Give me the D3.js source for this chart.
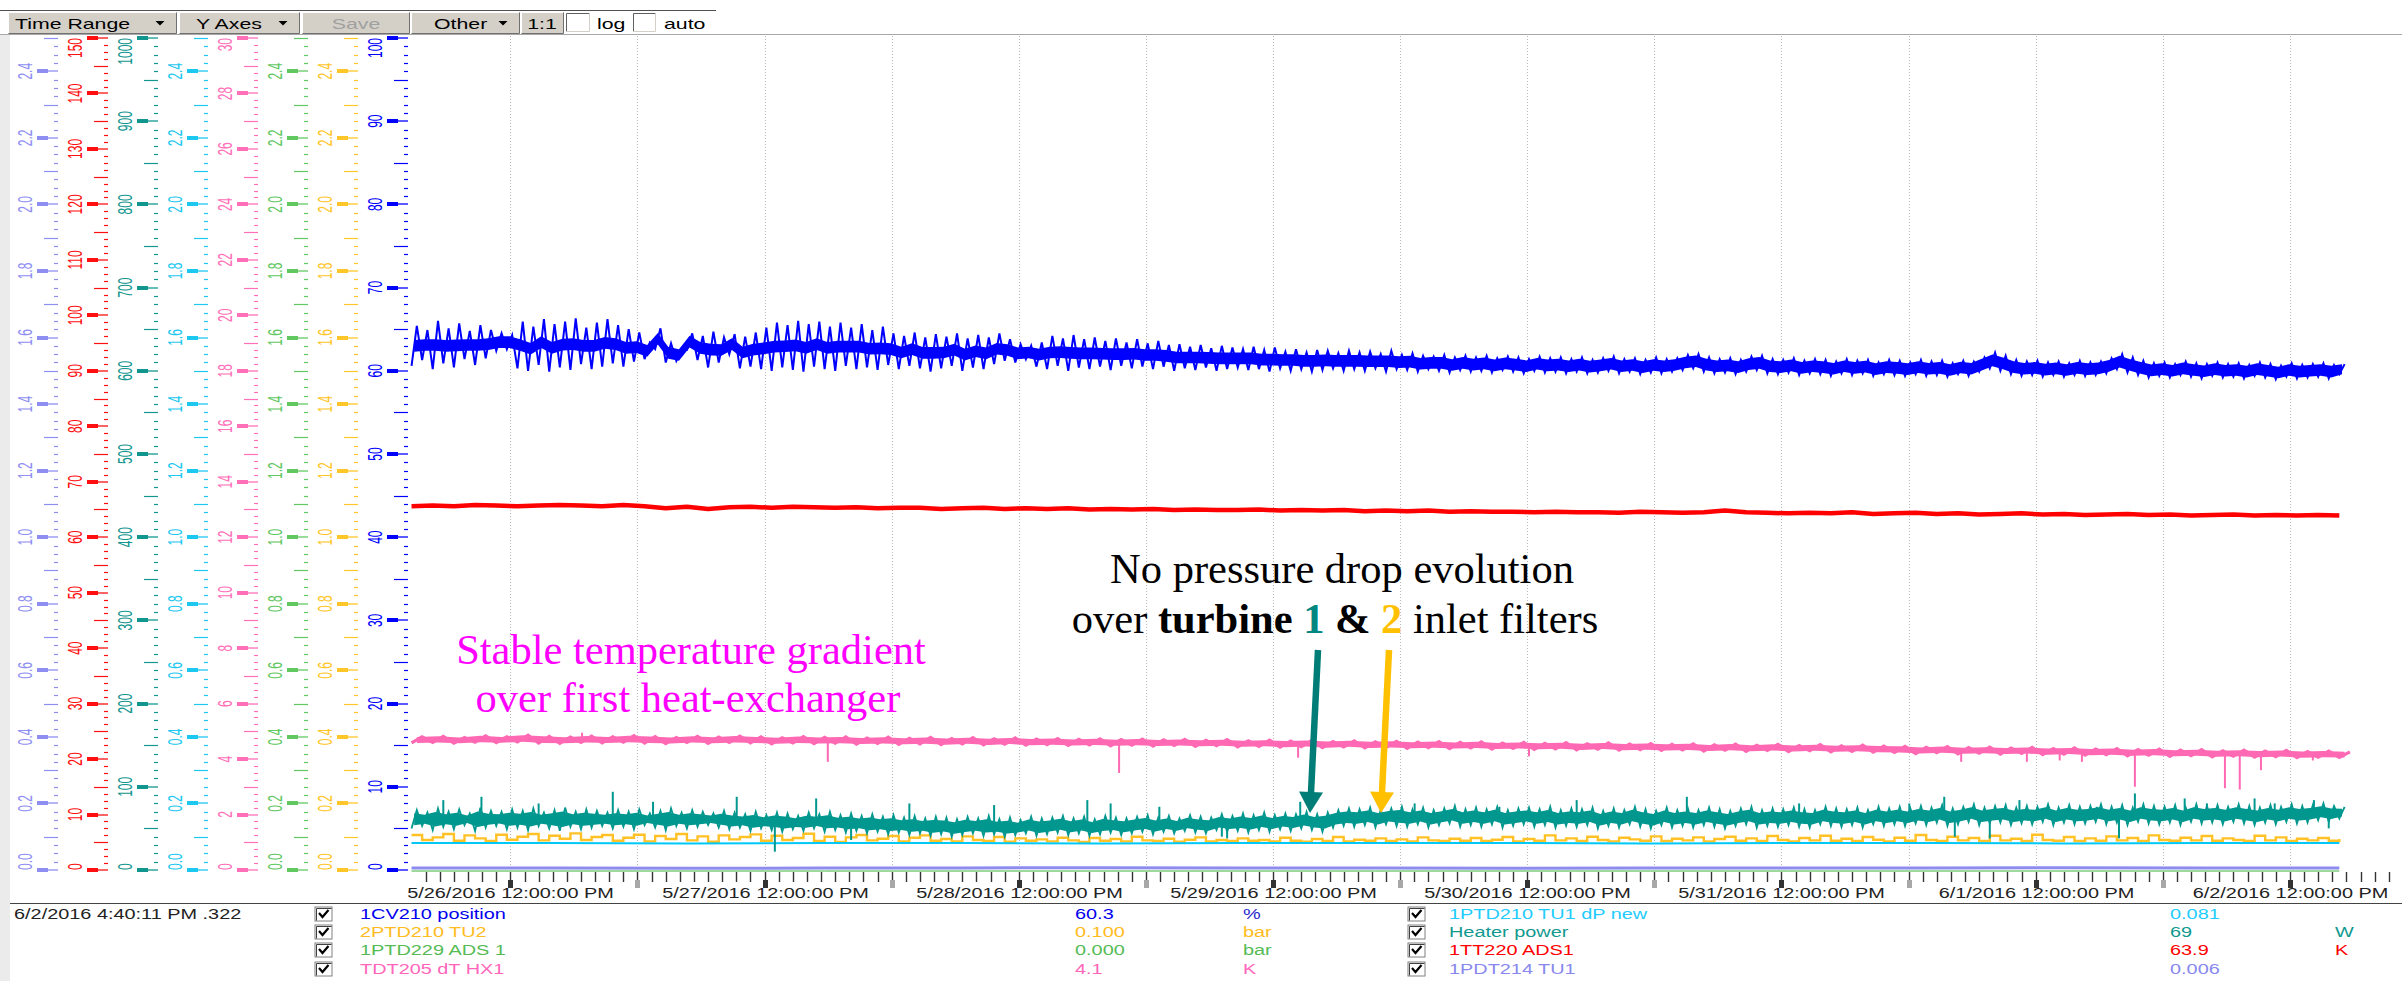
<!DOCTYPE html>
<html>
<head>
<meta charset="utf-8">
<title>Trend</title>
<script src="https://cdn.jsdelivr.net/npm/d3@7/dist/d3.min.js"></script>
<style>
  html, body { margin:0; padding:0; background:#ffffff; overflow:hidden; }
  svg { display:block; }
  .ui { font-family: "Liberation Sans", Arial, sans-serif; }
  .serif { font-family: "Liberation Serif", "Times New Roman", serif; }
</style>
</head>
<body>
<svg id="chart" width="2402" height="981"></svg>
<script>
// ================= DATA =================
const timeStart = new Date(2016, 4, 26, 2, 20);
const timeEnd   = new Date(2016, 5, 2, 22, 35);
const sampleStart = new Date(2016, 4, 26, 2, 40);   // first sample, 1 h steps
const tickAnchor = new Date(2016, 4, 26, 12, 0);
const tickMinutes = 80;
const cursorLabel = "6/2/2016 4:40:11 PM .322";

const toolbarLabels = ["Time Range", "Y Axes", "Save", "Other", "1:1"];
const toolbarChecks = ["log", "auto"];

// 8 stacked y axes (left to right)
const axisMax      = [2.5, 150, 1000, 2.5, 30, 2.5, 2.5, 100];
const axisMajor    = [0.2, 10, 100, 0.2, 2, 0.2, 0.2, 10];
const axisMinorPer = [8, 8, 10, 8, 8, 8, 8, 10];
const axisDecimals = [1, 0, 0, 1, 0, 1, 1, 0];

// 1CV210 position (%), hourly envelope hi / lo
const blueHi = [
65.4,64.9,66.0,65.1,65.7,64.8,65.5,64.9,64.5,64.3,
65.9,65.3,66.2,65.6,65.9,66.3,65.2,65.8,66.2,65.5,
65.0,64.6,63.4,65.1,63.3,62.6,64.5,64.2,64.7,64.0,
64.4,64.1,64.6,65.2,65.8,65.5,66.0,65.6,65.9,65.3,
65.8,65.2,65.6,64.9,65.3,64.5,64.2,64.6,64.0,64.4,
64.1,64.5,63.9,64.3,64.0,64.5,63.8,63.2,63.0,63.4,
64.2,63.9,64.3,63.8,64.0,63.6,63.9,63.4,63.8,63.3,
63.6,63.1,63.2,62.9,63.1,62.7,63.0,62.8,62.6,62.9,
62.5,62.8,62.3,62.6,62.2,62.5,62.4,62.1,62.4,62.2,
62.3,62.0,62.4,61.9,62.1,61.8,61.7,61.9,61.6,61.8,
61.6,61.8,61.5,61.7,61.6,61.4,61.7,61.5,61.6,61.4,
61.6,61.3,61.5,61.7,61.4,61.5,61.3,61.6,61.4,61.5,
61.9,62.0,61.6,61.4,61.5,61.3,61.7,61.8,61.4,61.3,
61.5,61.2,61.4,61.3,61.1,61.4,61.2,61.3,61.0,61.3,
61.2,61.0,61.3,61.1,61.2,60.9,61.2,61.1,61.6,62.2,
61.8,61.3,61.1,61.2,61.0,61.1,60.9,61.2,61.0,61.1,
61.5,62.0,61.6,61.2,60.9,61.0,60.8,61.1,60.9,60.8,
61.0,60.8,60.9,60.7,61.0,60.8,60.6,60.9,60.7,60.8,
60.9,60.7,60.8];
const blueLo = [
60.6,61.3,60.2,60.9,60.4,61.4,60.7,61.5,62.4,62.6,
60.3,60.0,60.7,59.9,60.4,60.1,60.8,60.2,60.5,60.9,
60.5,61.1,61.4,62.6,61.0,61.2,62.5,61.3,60.4,61.0,
62.0,60.3,60.5,60.2,60.0,60.4,60.1,59.9,60.5,60.2,
60.0,60.6,60.2,60.4,60.1,60.7,60.2,60.6,60.3,59.9,
60.3,60.6,60.0,60.4,60.2,60.8,61.2,61.0,61.4,60.5,
60.2,60.6,60.0,60.4,60.2,60.5,60.1,60.6,60.3,60.5,
60.2,60.5,60.0,60.3,60.1,60.4,60.0,60.2,60.4,60.1,
60.2,59.9,60.3,60.0,60.2,59.9,60.1,60.3,60.0,60.2,
60.0,60.3,59.9,60.2,60.1,59.9,60.2,60.0,59.8,60.1,
59.9,60.0,59.8,60.1,59.9,59.7,60.0,59.8,59.9,59.7,
59.9,59.7,59.8,60.0,59.7,59.9,59.6,59.8,59.7,59.9,
60.1,60.3,59.9,59.7,59.8,59.6,59.9,60.1,59.7,59.6,
59.8,59.5,59.7,59.6,59.4,59.7,59.5,59.7,59.4,59.6,
59.5,59.4,59.6,59.4,59.5,59.3,59.6,59.4,59.9,60.3,
60.0,59.6,59.4,59.5,59.3,59.5,59.3,59.5,59.4,59.5,
59.7,60.2,59.8,59.5,59.2,59.4,59.2,59.5,59.3,59.1,
59.4,59.2,59.3,59.1,59.4,59.2,59.0,59.3,59.1,59.2,
59.3,59.1,59.6];

// 1TT220 ADS1 (K), every 2 h
const redVals = [
65.6,65.7,65.6,65.8,65.7,65.6,65.7,65.8,65.7,65.6,
65.8,65.6,65.2,65.5,65.1,65.4,65.5,65.3,65.5,65.4,
65.3,65.4,65.2,65.3,65.3,65.1,65.2,65.3,65.1,65.2,
65.1,65.2,65.0,65.1,65.0,65.1,64.9,65.0,64.9,64.9,
65.0,64.8,64.9,64.8,64.9,64.7,64.8,64.7,64.8,64.6,
64.7,64.6,64.6,64.5,64.6,64.5,64.5,64.4,64.6,64.5,
64.4,64.5,64.8,64.5,64.4,64.3,64.4,64.3,64.5,64.2,
64.3,64.4,64.2,64.3,64.1,64.2,64.3,64.1,64.2,64.0,
64.1,64.2,64.0,64.1,63.9,64.0,64.1,63.9,64.0,63.9,
64.0,63.9];

// TDT205 dT HX1 (K), every 2 h envelope
const pinkHi = [
4.80,4.82,4.78,4.84,4.80,4.86,4.82,4.79,4.83,4.80,
4.84,4.81,4.78,4.82,4.79,4.83,4.80,4.77,4.81,4.78,
4.80,4.76,4.79,4.75,4.78,4.74,4.77,4.73,4.76,4.72,
4.74,4.71,4.73,4.70,4.72,4.69,4.71,4.68,4.70,4.66,
4.68,4.65,4.67,4.63,4.66,4.62,4.64,4.61,4.63,4.60,
4.62,4.58,4.60,4.57,4.59,4.55,4.58,4.54,4.56,4.53,
4.55,4.51,4.54,4.50,4.53,4.49,4.52,4.48,4.50,4.47,
4.46,4.42,4.45,4.41,4.43,4.40,4.42,4.38,4.40,4.36,
4.38,4.34,4.36,4.32,4.34,4.30,4.32,4.29,4.31,4.27,
4.29,4.26];
const pinkLo = [
4.58,4.60,4.57,4.61,4.59,4.62,4.58,4.57,4.60,4.58,
4.61,4.58,4.56,4.60,4.57,4.60,4.58,4.55,4.58,4.56,
4.57,4.54,4.56,4.53,4.55,4.52,4.55,4.51,4.54,4.50,
4.52,4.49,4.51,4.48,4.50,4.47,4.49,4.46,4.48,4.44,
4.46,4.43,4.45,4.41,4.44,4.40,4.42,4.39,4.41,4.38,
4.40,4.36,4.38,4.35,4.37,4.33,4.36,4.32,4.34,4.31,
4.33,4.29,4.32,4.28,4.31,4.27,4.30,4.26,4.28,4.25,
4.24,4.20,4.23,4.19,4.21,4.18,4.20,4.16,4.18,4.14,
4.16,4.12,4.14,4.10,4.12,4.08,4.10,4.07,4.09,4.05,
4.07,4.06];
// [hours after first sample, spike tip]
const pinkSpikes = [[16.1,4.95],[39.3,3.9],[66.8,3.5],[83.7,4.05],[105.5,4.1],[146.3,3.9],[152.5,3.9],
  [155.6,3.95],[157.7,3.9],[162.7,3.0],[171.2,2.95],[172.6,2.9],[174.6,3.6],[179.5,3.95]];

// Heater power (W), hourly envelope
const tealHi = [
72,69,74,70,73,68,75,71,70,73, 71,74,69,72,75,70,73,71,69,72,
70,73,68,71,74,69,72,70,68,71, 69,67,70,66,69,68,65,69,67,70,
66,68,65,67,64,66,63,65,62,64, 63,61,64,62,65,61,63,60,64,62,
63,65,62,64,61,65,63,62,64,66, 63,65,62,66,64,63,67,65,68,66,
69,66,68,67,70,67,69,72,74,73, 75,72,74,76,73,75,72,74,77,73,
75,73,76,72,74,75,73,76,72,74, 73,75,71,74,72,76,73,71,75,72,
74,72,75,73,71,74,76,72,74,73, 75,73,72,76,74,73,75,72,76,74,
76,74,77,75,78,74,76,79,75,77, 78,75,77,76,79,75,78,76,77,79,
76,78,75,79,77,76,78,75,79,77, 78,76,79,77,75,78,76,79,77,78,
80,77,76];
const tealLo = [
50,53,48,52,49,54,47,51,53,49, 51,48,53,50,47,52,49,51,53,50,
52,49,54,51,48,53,50,52,54,51, 49,51,47,50,48,46,49,47,50,46,
48,45,47,44,46,43,45,42,44,41, 43,40,42,44,41,43,40,42,44,41,
43,45,42,44,41,43,45,42,44,46, 43,46,44,47,45,44,48,46,47,45,
48,46,49,47,50,48,46,51,53,52, 54,51,55,53,52,55,51,54,56,52,
54,52,55,51,53,55,52,54,51,53, 52,54,50,53,51,55,52,50,54,51,
53,51,54,52,50,53,55,51,53,52, 54,52,51,55,53,52,54,51,55,53,
55,53,56,54,57,53,55,58,54,56, 57,54,56,55,58,54,57,55,56,58,
55,57,54,58,56,55,57,54,58,56, 57,55,58,56,54,57,55,58,56,57,
60,58,62];
const tealSpikes = [[3,84],[6.6,88],[12,80],[19,94],[22.8,82],[30.7,88],[34.3,22],[38.2,86],[41.5,36],
  [47,80],[55,78],[63.8,84],[66,80],[70.6,76],[76.5,40],[77,38],[83.9,82],[94.7,80],[102.7,76],[110,84],
  [120.4,88],[131,80],[141.4,80],[144.7,88],[145.7,40],[149,38],[151.8,84],[154.6,76],[159.1,76],
  [161.2,38],[162.7,92],[167.4,86],[169.5,80],[174,86],[175.9,80],[179.6,84],[181,50]];

// 2PTD210 TU2 (bar), hourly
const yellowVals = [
0.105,0.090,0.098,0.108,0.088,0.104,0.095,0.087,0.106,0.091,
0.100,0.108,0.089,0.103,0.094,0.110,0.090,0.099,0.105,0.088,
0.097,0.106,0.086,0.102,0.093,0.108,0.089,0.101,0.085,0.104,
0.092,0.099,0.107,0.088,0.103,0.090,0.096,0.109,0.087,0.100,
0.084,0.098,0.105,0.089,0.094,0.102,0.086,0.097,0.104,0.088,
0.093,0.086,0.101,0.090,0.087,0.099,0.085,0.095,0.088,0.092,
0.086,0.097,0.089,0.084,0.096,0.088,0.093,0.086,0.100,0.089,
0.087,0.094,0.085,0.091,0.098,0.086,0.090,0.087,0.095,0.088,
0.090,0.086,0.097,0.088,0.085,0.093,0.087,0.099,0.086,0.091,
0.088,0.095,0.087,0.092,0.086,0.098,0.089,0.087,0.094,0.088,
0.096,0.087,0.091,0.099,0.086,0.093,0.088,0.104,0.089,0.095,
0.087,0.100,0.090,0.086,0.097,0.092,0.088,0.101,0.087,0.094,
0.089,0.098,0.086,0.093,0.100,0.088,0.095,0.087,0.102,0.090,
0.086,0.096,0.089,0.103,0.088,0.094,0.087,0.099,0.091,0.086,
0.097,0.088,0.105,0.090,0.087,0.100,0.089,0.096,0.087,0.103,
0.089,0.094,0.087,0.106,0.090,0.088,0.099,0.087,0.095,0.088,
0.101,0.089,0.096,0.087,0.104,0.090,0.088,0.097,0.089,0.102,
0.088,0.095,0.090,0.087,0.103,0.089,0.098,0.087,0.094,0.089,
0.096,0.088,0.093];

// every 13 h
const cyanVals   = [0.081,0.081,0.080,0.081,0.081,0.080,0.081,0.081,0.081,0.080,0.081,0.081,0.080,0.081,0.081];
const greenVals  = [0,0,0,0,0,0,0,0,0,0,0,0,0,0,0];
const lavVals    = [0.006,0.006,0.005,0.006,0.006,0.007,0.006,0.006,0.005,0.006,0.006,0.006,0.007,0.006,0.006];

const legendNames  = ["1CV210 position","2PTD210 TU2","1PTD229 ADS 1","TDT205 dT HX1",
                      "1PTD210 TU1 dP new","Heater power","1TT220 ADS1","1PDT214 TU1"];
const legendValues = ["60.3","0.100","0.000","4.1","0.081","69","63.9","0.006"];
const legendUnits  = ["%","bar","bar","K","","W","K",""];

// ================= STYLE / LAYOUT =================
const W = 2402, H = 981;
const SX = 1.42;               // horizontal stretch of the screenshot's bitmap fonts
const SXA = 1.7;               // stretch of rotated axis labels
const Y0 = 870, Y1 = 38;       // value 0 / axis max
const axisColors = ["#8f8ff2","#ff1010","#12968f","#1ec8f0","#ff70b8","#62c862","#ffc62a","#0000ff"];
const C = { blue:"#0000ff", red:"#ff0000", pink:"#ff69b4", teal:"#00978f", yellow:"#ffc125",
            cyan:"#00c8f8", green:"#3cb43c", lav:"#8c8cf0" };
const legendColors = ["#0000ee","#ffbb22","#55bb55","#ff66bb","#22ccff","#119990","#ff0000","#8888ee"];
const unitColors   = ["#2a2acc","#ffbb22","#55bb55","#ff66bb","#22ccff","#119990","#ff0000","#8888ee"];

const svg = d3.select("#chart");
svg.append("rect").attr("width", W).attr("height", H).attr("fill", "#fff");

const x = d3.scaleTime().domain([timeStart, timeEnd]).range([408, 2402]);
const tAt = h => new Date(sampleStart.getTime() + h * 3600e3);
const yScales = axisMax.map(m => d3.scaleLinear().domain([0, m]).range([Y0, Y1]));
const yLav = yScales[0], yRed = yScales[1], yTeal = yScales[2], yCyan = yScales[3],
      yPink = yScales[4], yGreen = yScales[5], yYel = yScales[6], yBlue = yScales[7];

function uiText(g, str, px, py, o = {}) {
  return g.append("text")
    .attr("class", "ui")
    .attr("transform", `translate(${px},${py}) scale(${o.sx || SX},1)`)
    .attr("text-anchor", o.anchor || "start")
    .attr("font-size", o.size || 14)
    .attr("fill", o.fill || "#000")
    .text(str);
}

// ---------- left gray strip ----------
svg.append("rect").attr("x", 0).attr("y", 34).attr("width", 10).attr("height", H - 34).attr("fill", "#ebebeb");

// ---------- vertical grid ----------
const gGrid = svg.append("g");
d3.timeHour.every(12).range(timeStart, timeEnd).forEach(t => {
  const px = Math.round(x(t)) + 0.5;
  if (px < 410) return;
  gGrid.append("line").attr("x1", px).attr("x2", px).attr("y1", 36).attr("y2", Y0 - 1)
    .attr("stroke", "#b8b8b8").attr("stroke-width", 1).attr("stroke-dasharray", "1,2");
});

// ---------- y axes ----------
const gAx = svg.append("g");
axisMax.forEach((mx, i) => {
  const bx = 50 * i;
  const col = axisColors[i];
  const ys = yScales[i];
  const per = axisMinorPer[i];
  const step = axisMajor[i] / per;
  const n = Math.round(mx / step);
  for (let k = 0; k <= n; k++) {
    const v = k * step;
    const py = Math.round(ys(v)) + 0.5;
    if (k % per === 0) {
      gAx.append("rect").attr("x", bx + 37).attr("y", py - 2.5).attr("width", 11).attr("height", 4).attr("fill", col);
      gAx.append("line").attr("x1", bx + 37).attr("x2", bx + 58).attr("y1", py - 0.5).attr("y2", py - 0.5)
        .attr("stroke", col).attr("stroke-width", 1.3);
      const lab = gAx.append("text").attr("class", "ui").attr("font-size", 12).attr("fill", col)
        .attr("text-anchor", "middle").attr("dominant-baseline", "central")
        .text(d3.format("." + axisDecimals[i] + "f")(v));
      const L = lab.node().getComputedTextLength();
      const cy = Math.max(Y1 + L / 2, Math.min(Y0 - L / 2, ys(v)));
      lab.attr("transform", `translate(${bx + 25},${cy}) scale(${SXA},1) rotate(-90)`);
    } else if (k % (per / 2) === 0) {
      gAx.append("line").attr("x1", bx + 44).attr("x2", bx + 58).attr("y1", py).attr("y2", py)
        .attr("stroke", col).attr("stroke-width", 1.2);
    } else {
      gAx.append("line").attr("x1", bx + 54).attr("x2", bx + 58).attr("y1", py).attr("y2", py)
        .attr("stroke", col).attr("stroke-width", 1.2);
    }
  }
});

// ---------- series ----------
const gS = svg.append("g");
const lineXY = d3.line().x(d => x(d[0])).y(d => d[1]);
const areaXY = d3.area().x(d => x(d[0])).y0(d => d[1]).y1(d => d[2]);

function zigzag(hi, lo, stepH, ys) {
  const pts = [];
  hi.forEach((v, i) => {
    pts.push([tAt(i * stepH), ys(lo[i])]);
    pts.push([tAt(i * stepH + stepH / 2), ys(v)]);
  });
  return pts;
}
// solid core of the noise band: either a fraction of the spread or a fixed half-width
function core(hi, lo, stepH, ys, frac, fixedHalf) {
  return hi.map((v, i) => {
    const c = (v + lo[i]) / 2, r = fixedHalf != null ? Math.min(fixedHalf, (v - lo[i]) / 2) : (v - lo[i]) * frac;
    return [tAt(i * stepH + stepH / 4), ys(c - r), ys(c + r)];
  });
}
function simple(vals, stepH, ys) { return vals.map((v, i) => [tAt(i * stepH), ys(v)]); }

// bottom lines
gS.append("path").attr("d", lineXY(simple(lavVals, 13, yLav))).attr("fill", "none")
  .attr("stroke", C.lav).attr("stroke-width", 3);
gS.append("path").attr("d", lineXY(simple(greenVals, 13, yGreen).map(d => [d[0], d[1] + 1]))).attr("fill", "none")
  .attr("stroke", C.green).attr("stroke-width", 1);

// yellow step line
gS.append("path").attr("d", d3.line().x(d => x(d[0])).y(d => d[1]).curve(d3.curveStepAfter)(simple(yellowVals, 1, yYel)))
  .attr("fill", "none").attr("stroke", C.yellow).attr("stroke-width", 2.4);
// cyan
gS.append("path").attr("d", lineXY(simple(cyanVals, 13, yCyan))).attr("fill", "none")
  .attr("stroke", C.cyan).attr("stroke-width", 2);

// teal
gS.append("path").attr("d", areaXY(core(tealHi, tealLo, 1, yTeal, 0.33))).attr("fill", C.teal);
gS.append("path").attr("d", lineXY(zigzag(tealHi, tealLo, 1, yTeal))).attr("fill", "none")
  .attr("stroke", C.teal).attr("stroke-width", 1.8);
tealSpikes.forEach(([h, v]) => {
  const i = Math.min(tealHi.length - 1, Math.floor(h));
  const c = (tealHi[i] + tealLo[i]) / 2;
  const px = x(tAt(h));
  gS.append("line").attr("x1", px).attr("x2", px).attr("y1", yTeal(c)).attr("y2", yTeal(v))
    .attr("stroke", C.teal).attr("stroke-width", 2);
});

// pink
gS.append("path").attr("d", areaXY(core(pinkHi, pinkLo, 2, yPink, 0.5))).attr("fill", C.pink);
gS.append("path").attr("d", lineXY(zigzag(pinkHi, pinkLo, 2, yPink))).attr("fill", "none")
  .attr("stroke", C.pink).attr("stroke-width", 3.2);
pinkSpikes.forEach(([h, v]) => {
  const i = Math.min(pinkHi.length - 1, Math.floor(h / 2));
  const c = (pinkHi[i] + pinkLo[i]) / 2;
  const px = x(tAt(h));
  gS.append("line").attr("x1", px).attr("x2", px).attr("y1", yPink(c)).attr("y2", yPink(v))
    .attr("stroke", C.pink).attr("stroke-width", 2);
});

// red
gS.append("path").attr("d", lineXY(simple(redVals, 2, yRed))).attr("fill", "none")
  .attr("stroke", C.red).attr("stroke-width", 4.5).attr("stroke-linejoin", "round");

// blue
gS.append("path").attr("d", areaXY(core(blueHi, blueLo, 1, yBlue, 0, 0.7))).attr("fill", C.blue);
gS.append("path").attr("d", lineXY(zigzag(blueHi, blueLo, 1, yBlue))).attr("fill", "none")
  .attr("stroke", C.blue).attr("stroke-width", 2);

// ---------- x axis ----------
const gX = svg.append("g");
const stepMs = tickMinutes * 60e3;
const firstTick = new Date(tickAnchor.getTime() - Math.floor((tickAnchor - timeStart) / stepMs) * stepMs);
for (let t = firstTick; t <= timeEnd; t = new Date(t.getTime() + stepMs)) {
  const px = Math.round(x(t)) + 0.5;
  if (px < 414) continue;
  gX.append("line").attr("x1", px).attr("x2", px).attr("y1", 872).attr("y2", 882)
    .attr("stroke", "#333").attr("stroke-width", 1.4);
  const hr = t.getHours();
  if ((hr === 12 || hr === 0) && t.getMinutes() === 0) {
    gX.append("rect").attr("x", px - 2.5).attr("y", 880).attr("width", 5).attr("height", 8)
      .attr("fill", hr === 12 ? "#333" : "#a8a8a8");
  }
  if (hr === 12 && t.getMinutes() === 0) {
    uiText(gX, d3.timeFormat("%-m/%-d/%Y %-I:%M:%S %p")(t), px, 898, { anchor: "middle", fill: "#222" });
  }
}

// separator
svg.append("line").attr("x1", 10).attr("x2", W).attr("y1", 903.5).attr("y2", 903.5)
  .attr("stroke", "#444").attr("stroke-width", 1);

// ---------- legend ----------
const gL = svg.append("g");
uiText(gL, cursorLabel, 14, 919, { fill: "#222" });
function checkbox(g, bx, by) {
  g.append("rect").attr("x", bx).attr("y", by).attr("width", 17).attr("height", 14).attr("fill", "#fff")
    .attr("stroke", "#808080").attr("stroke-width", 1);
  g.append("path").attr("d", `M${bx + 1.5},${by + 13.5}V${by + 1.5}H${bx + 16.5}`).attr("stroke", "#404040")
    .attr("fill", "none").attr("stroke-width", 1);
  g.append("path").attr("d", `M${bx + 4},${by + 6} L${bx + 7.5},${by + 10} L${bx + 13.5},${by + 3}`)
    .attr("stroke", "#000").attr("stroke-width", 2.2).attr("fill", "none");
}
const rowBase = [919, 937, 955, 974];
legendNames.forEach((nm, i) => {
  const col = Math.floor(i / 4), r = i % 4;
  const cbX = col ? 1408 : 315, nmX = col ? 1449 : 360, vX = col ? 2170 : 1075, uX = col ? 2335 : 1243;
  checkbox(gL, cbX, rowBase[r] - 12);
  uiText(gL, nm, nmX, rowBase[r], { fill: legendColors[i] });
  uiText(gL, legendValues[i], vX, rowBase[r], { fill: legendColors[i] });
  if (legendUnits[i]) uiText(gL, legendUnits[i], uX, rowBase[r], { fill: unitColors[i] });
});

// ---------- toolbar ----------
const gT = svg.append("g");
gT.append("line").attr("x1", 0).attr("x2", W).attr("y1", 34.5).attr("y2", 34.5).attr("stroke", "#a8a8a8");
gT.append("line").attr("x1", 0).attr("x2", 716).attr("y1", 10.5).attr("y2", 10.5).attr("stroke", "#505050");
const btnBox = [[8, 177], [179, 300], [302, 410], [411, 520], [521, 564]];
const btnTextX = [15, 196, 356, 434, 542];
const btnArrow = [true, true, false, true, false];
toolbarLabels.forEach((lab, i) => {
  const [a, b] = btnBox[i];
  gT.append("rect").attr("x", a).attr("y", 12).attr("width", b - a).attr("height", 22).attr("fill", "#d4d0c8");
  gT.append("path").attr("d", `M${a + 0.5},${33.5}V${12.5}H${b - 0.5}`).attr("stroke", "#fff").attr("fill", "none");
  gT.append("path").attr("d", `M${a + 0.5},${33.5}H${b - 0.5}V${12.5}`).attr("stroke", "#707070").attr("fill", "none");
  const disabled = lab === "Save";
  uiText(gT, lab, btnTextX[i], 28.5, { anchor: btnArrow[i] ? "start" : "middle", fill: disabled ? "#a0a0a0" : "#000", size: 15 });
  if (btnArrow[i]) {
    const ax = b - 17;
    gT.append("path").attr("d", `M${ax - 4.5},21 L${ax + 4.5},21 L${ax},25.5 Z`).attr("fill", "#000");
  }
});
const chkBox = [[566, 590], [633, 656]];
const chkTextX = [597, 664];
toolbarChecks.forEach((lab, i) => {
  const [a, b] = chkBox[i];
  gT.append("rect").attr("x", a).attr("y", 13).attr("width", b - a).attr("height", 19).attr("fill", "#fff");
  gT.append("path").attr("d", `M${a + 0.5},${31.5}V${13.5}H${b - 0.5}`).attr("stroke", "#606060").attr("fill", "none");
  gT.append("path").attr("d", `M${a + 0.5},${31.5}H${b - 0.5}V${13.5}`).attr("stroke", "#d4d0c8").attr("fill", "none");
  uiText(gT, lab, chkTextX[i], 28.5, { size: 15 });
});

// ---------- annotations ----------
const gA = svg.append("g").attr("class", "serif");
gA.append("text").attr("x", 691).attr("y", 664).attr("text-anchor", "middle").attr("font-size", 42.5)
  .attr("fill", "#ff00ff").text("Stable temperature gradient");
gA.append("text").attr("x", 688).attr("y", 712).attr("text-anchor", "middle").attr("font-size", 42.5)
  .attr("fill", "#ff00ff").text("over first heat-exchanger");
gA.append("text").attr("x", 1342).attr("y", 583).attr("text-anchor", "middle").attr("font-size", 42.5)
  .attr("fill", "#000").text("No pressure drop evolution");
const t2 = gA.append("text").attr("x", 1335).attr("y", 633).attr("text-anchor", "middle").attr("font-size", 42.5).attr("fill", "#000");
t2.append("tspan").text("over ");
t2.append("tspan").attr("font-weight", "bold").text("turbine ");
t2.append("tspan").attr("font-weight", "bold").attr("fill", "#00877f").text("1");
t2.append("tspan").attr("font-weight", "bold").text(" & ");
t2.append("tspan").attr("font-weight", "bold").attr("fill", "#ffc000").text("2");
t2.append("tspan").text(" inlet filters");

function arrow(g, x1, y1, x2, y2, col) {
  const hl = 21, hw = 12;
  const dx = x2 - x1, dy = y2 - y1, L = Math.hypot(dx, dy), ux = dx / L, uy = dy / L;
  const bx = x2 - ux * hl, by = y2 - uy * hl;
  g.append("line").attr("x1", x1).attr("y1", y1).attr("x2", bx + ux * 2).attr("y2", by + uy * 2)
    .attr("stroke", col).attr("stroke-width", 6.5);
  g.append("path").attr("d", `M${x2},${y2} L${bx - uy * hw},${by + ux * hw} L${bx + uy * hw},${by - ux * hw} Z`)
    .attr("fill", col);
}
arrow(gA, 1318, 650, 1310, 813, "#007d77");
arrow(gA, 1389, 650, 1381, 813, "#ffc000");
</script>
</body>
</html>
